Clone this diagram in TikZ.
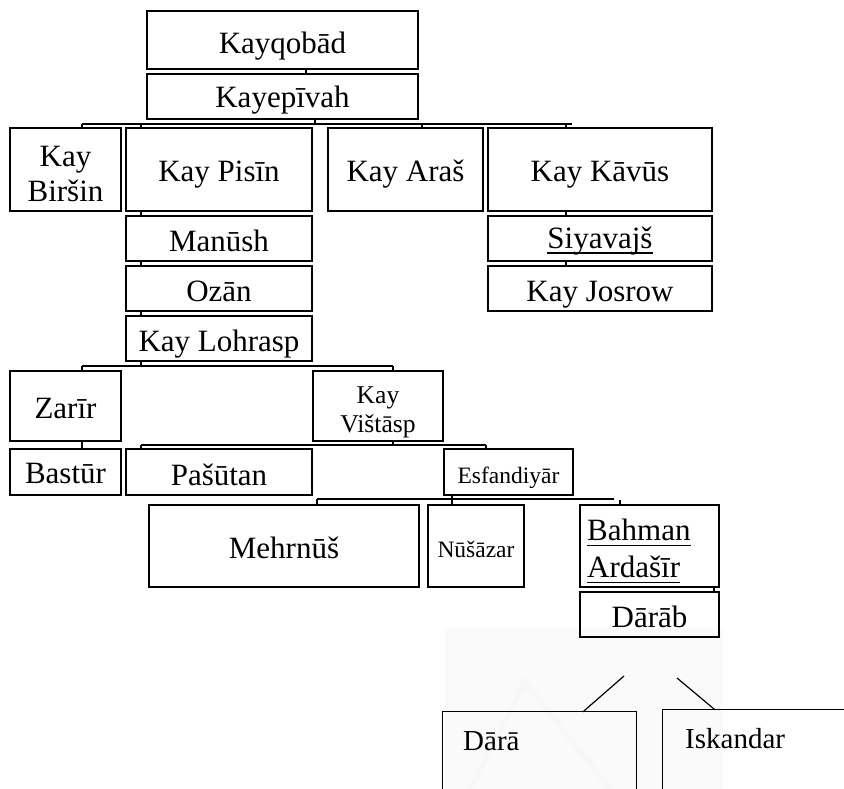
\documentclass[tikz,border=0pt]{standalone}
\usepackage{fontspec}
\setmainfont{Liberation Serif}
\newcommand\szA{\fontsize{31}{35}\selectfont}
\newcommand\szB{\fontsize{25.6}{29.5}\selectfont}
\newcommand\szC{\fontsize{23.5}{27}\selectfont}
\newcommand\szD{\fontsize{29}{33}\selectfont}
\newsavebox\ulbox
\newcommand\ulx[1]{\leavevmode\sbox\ulbox{#1}\rlap{\rule[-5.5pt]{\wd\ulbox}{1.3pt}}\usebox\ulbox}
\begin{document}
\begin{tikzpicture}[x=1pt,y=-1pt,
  box/.style={draw, line width=1.4pt, inner sep=0pt, align=center, font=\szA},
  th/.style={text height=#1, text depth=0pt},
  conn/.style={line width=1.4pt},
  wmark/.style={black!3, line width=6pt}]
\useasboundingbox (0,0) rectangle (844,789);
% faint watermark
\fill[black!2] (445,628) rectangle (723,789);
\draw[wmark] (470,789) -- (525,682) -- (610,789);

% generation nodes
\node[box, th=28pt, minimum width=271, minimum height=58] (qobad) at (282.5,40) {Kayqobād};
\node[box, th=23pt, minimum width=271, minimum height=45] (epivah) at (282.5,96.5) {Kayepīvah};
\node[box, minimum width=111, minimum height=83] (birsin) at (65.5,169.5) {\rule{0pt}{30pt}Kay\\Biršin};
\node[box, th=25pt, minimum width=186, minimum height=83] (pisin) at (219,169.5) {Kay Pisīn};
\node[box, th=25pt, minimum width=155, minimum height=83] (aras) at (405.5,169.5) {Kay Araš};
\node[box, th=25pt, minimum width=224, minimum height=83] (kavus) at (600,169.5) {Kay Kāvūs};
\node[box, th=19pt, minimum width=224, minimum height=45] (siyavajs) at (600,238.5) {\ulx{Siyavajš}};
\node[box, th=25pt, minimum width=224, minimum height=45] (josrow) at (600,288.5) {Kay Josrow};
\node[box, th=26pt, minimum width=186, minimum height=45] (manush) at (219,238.5) {Manūsh};
\node[box, th=25pt, minimum width=186, minimum height=45] (ozan) at (219,288.5) {Ozān};
\node[box, th=26pt, minimum width=186, minimum height=45] (lohrasp) at (219,338.5) {Kay Lohrasp};
\node[box, th=24pt, minimum width=111, minimum height=70] (zarir) at (65.5,406) {Zarīr};
\node[box, font=\szB, minimum width=130, minimum height=70] (vistasp) at (378,406) {\rule{0pt}{29.5pt}Kay\\Vištāsp\rule[-6pt]{0pt}{6pt}};
\node[box, th=22pt, minimum width=111, minimum height=46] (bastur) at (65.5,472) {Bastūr};
\node[box, th=26pt, minimum width=186, minimum height=46] (pasutan) at (219,472) {Pašūtan};
\node[box, th=22pt, font=\szC, minimum width=129, minimum height=46] (esfandiyar) at (508.5,472) {Esfandiyār};
\node[box, th=24pt, minimum width=270, minimum height=82] (mehrnus) at (284,546) {Mehrnūš};
\node[box, th=22pt, font=\szC, minimum width=96, minimum height=82] (nusazar) at (476,546) {Nūšāzar};
\node[box, minimum width=139, minimum height=82] (bahman) at (649.5,546) {};
\node[font=\fontsize{31}{37}\selectfont, align=left, anchor=north west, inner sep=0pt] (bahmantxt) at (587,518.8) {\ulx{Bahman}\\\ulx{Ardašīr}};
\node[box, th=25pt, minimum width=139, minimum height=45] (darab) at (649.5,614.5) {Dārāb};

% bottom open boxes
\node[minimum width=193, minimum height=77, inner sep=0pt] (darabox) at (539.5,750.5) {};
\node[minimum width=182, minimum height=79, inner sep=0pt] (iskbox) at (754,749.5) {};
\draw[line width=1.2pt] (darabox.south west) |- (darabox.north east) -- (darabox.south east);
\draw[line width=1.2pt] (iskbox.south west) |- (iskbox.north east);
\node[font=\szD, anchor=base west, inner sep=0pt] (dara) at (463,750) {Dārā};
\node[font=\szD, anchor=base west, inner sep=0pt] (iskandar) at (685,748) {Iskandar};

% connectors
\draw[conn] (qobad.south -| 306,0) -- (epivah.north -| 306,0);

\coordinate (aL) at (82,124); \coordinate (aR) at (572,124);
\draw[conn] (aL) -- (aR);
\draw[conn] (epivah.south -| 315,0) -- (aL -| 315,0);
\foreach \n/\xx in {birsin/82, pisin/141, aras/422, kavus/566}
  \draw[conn] (aL -| \xx,0) -- (\n.north -| \xx,0);

\draw[conn] (kavus.south -| 566,0) -- (siyavajs.north -| 566,0);
\draw[conn] (siyavajs.south -| 566,0) -- (josrow.north -| 566,0);

\draw[conn] (pisin.south -| 141,0) -- (manush.north -| 141,0);
\draw[conn] (manush.south -| 141,0) -- (ozan.north -| 141,0);
\draw[conn] (ozan.south -| 141,0) -- (lohrasp.north -| 141,0);

\coordinate (bL) at (82,366); \coordinate (bR) at (393,366);
\draw[conn] (bL) -- (bR);
\draw[conn] (lohrasp.south -| 141,0) -- (bL -| 141,0);
\draw[conn] (bL) -- (zarir.north -| bL);
\draw[conn] (bR) -- (vistasp.north -| bR);

\draw[conn] (zarir.south -| 82,0) -- (bastur.north -| 82,0);

\coordinate (cL) at (141,445); \coordinate (cR) at (486,445);
\draw[conn] (cL) -- (cR);
\draw[conn] (vistasp.south -| 393,0) -- (cL -| 393,0);
\draw[conn] (cL) -- (pasutan.north -| cL);
\draw[conn] (cR) -- (esfandiyar.north -| cR);

\coordinate (dL) at (317,499); \coordinate (dR) at (614,499);
\draw[conn] (dL) -- (dR);
\draw[conn] (dL) -- (mehrnus.north -| dL);
\draw[conn] (esfandiyar.south -| 452,0) -- (nusazar.north -| 452,0);
\coordinate (dT) at (620,500);
\draw[conn] (dT) -- (bahman.north -| dT);

\draw[conn] (bahman.south -| 714,0) -- (darab.north -| 714,0);

\coordinate (e1) at (624,676);
\coordinate (e2) at (677,678);
\draw[line width=1.2pt] (e1) -- (darabox.north -| 583,0);
\draw[line width=1.2pt] (e2) -- (iskbox.north -| 715,0);
\end{tikzpicture}
\end{document}
